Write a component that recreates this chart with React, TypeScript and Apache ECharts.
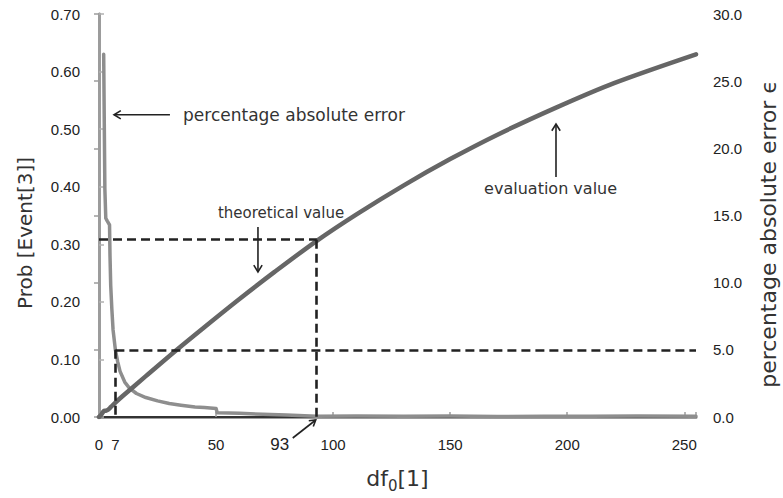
import React, { useEffect, useRef } from 'react';
import * as echarts from 'echarts';

// evaluation value (left axis, Prob[Event[3]])
const evalDf = [0, 1, 2, 3, 4, 5, 7, 10, 20, 33, 45, 60, 75, 93, 110, 130, 150, 170, 195, 220, 255];
const evalProb = [0, 0.004, 0.01, 0.011, 0.013, 0.017, 0.025, 0.036, 0.071, 0.116, 0.156, 0.205, 0.252, 0.306, 0.352, 0.402, 0.448, 0.49, 0.537, 0.58, 0.63];

// percentage absolute error (right axis)
const errDf = [2, 2.1, 2.5, 2.9, 3.5, 4.5, 4.7, 5, 5.5, 6, 7, 8, 9, 11, 13, 16, 20, 25, 30, 35, 41, 45, 50, 50.5, 60, 70, 80, 93, 110, 130, 150, 170, 190, 210, 230, 255];
const errPct = [27, 25, 17, 14.8, 14.6, 14.3, 12, 9.8, 8, 6.5, 5, 4.1, 3.4, 2.6, 2.15, 1.75, 1.45, 1.2, 1.0, 0.88, 0.75, 0.7, 0.64, 0.32, 0.28, 0.2, 0.14, 0.05, 0.08, 0.05, 0.07, 0.04, 0.06, 0.05, 0.07, 0.05];

// reference thresholds
const theoDf = 93;
const theoProb = 0.308;
const errDfAt5 = 7;
const errLevel = 5;

const xMax = 255;
const leftMax = 0.7;
const rightMax = 30;

const TICK_FONT = 'Liberation Sans';
const TEXT_FONT = 'DejaVu Sans';

function arrow(x1: number, y1: number, x2: number, y2: number, head = 8) {
  const ang = Math.atan2(y2 - y1, x2 - x1);
  const a1 = ang + Math.PI - 0.55;
  const a2 = ang + Math.PI + 0.55;
  return [
    { type: 'line', shape: { x1, y1, x2, y2 }, style: { stroke: '#222', lineWidth: 1.6 }, z: 10 },
    {
      type: 'polyline',
      shape: {
        points: [
          [x2 + head * Math.cos(a1), y2 + head * Math.sin(a1)],
          [x2, y2],
          [x2 + head * Math.cos(a2), y2 + head * Math.sin(a2)],
        ],
      },
      style: { stroke: '#222', lineWidth: 1.6, fill: null },
      z: 10,
    },
  ];
}

export default function App() {
  const ref = useRef<HTMLDivElement>(null);
  useEffect(() => {
    document.body.style.margin = '0';
    const chart = echarts.init(ref.current!, null, { renderer: 'svg' });
    const dash = { type: [9, 5], color: '#222', width: 2.6 };
    const option: any = {
      animation: false,
      grid: { left: 99, width: 597, top: 14, height: 411 },
      xAxis: [
        {
          type: 'value', min: 0, max: xMax, interval: 50,
          axisLine: { lineStyle: { color: '#9c9c9c', width: 3 } },
          axisTick: { show: true, inside: true, length: 5, lineStyle: { color: '#9c9c9c', width: 1.5 } },
          axisLabel: {
            margin: 20, fontSize: 15, fontFamily: TICK_FONT, color: '#222',
            formatter: (v: number) => (v % 50 === 0 ? String(v) : ''),
          },
          splitLine: { show: false },
          name: '{a|df}{b|0}{a|[1]}',
          nameLocation: 'middle',
          nameGap: 46,
          nameTextStyle: {
            rich: {
              a: { fontSize: 22, fontFamily: TEXT_FONT, color: '#333', lineHeight: 30, verticalAlign: 'middle' },
              b: { fontSize: 15, fontFamily: TEXT_FONT, color: '#333', lineHeight: 14, verticalAlign: 'bottom' },
            },
          },
        },
        {
          type: 'value', position: 'top', min: 0, max: xMax,
          axisLine: { show: true, lineStyle: { color: '#333', width: 2 } },
          axisTick: { show: false }, axisLabel: { show: false }, splitLine: { show: false },
        },
      ],
      yAxis: [
        {
          type: 'value', min: 0, max: leftMax, interval: 0.1,
          axisLine: { show: true, lineStyle: { color: '#b0b0b0', width: 3 } },
          axisTick: { show: true, inside: true, length: 5, lineStyle: { color: '#b0b0b0', width: 1.5 } },
          axisLabel: { margin: 19, fontSize: 15, fontFamily: TICK_FONT, color: '#222', formatter: (v: number) => v.toFixed(2) },
          splitLine: { show: false },
        },
        {
          type: 'value', min: 0, max: rightMax, interval: 5, position: 'right',
          axisLine: { show: true, lineStyle: { color: '#9c9c9c', width: 3 } },
          axisTick: { show: true, inside: true, length: 5, lineStyle: { color: '#9c9c9c', width: 1.5 } },
          axisLabel: { margin: 17, fontSize: 15, fontFamily: TICK_FONT, color: '#222', formatter: (v: number) => v.toFixed(1) },
          splitLine: { show: false },
        },
      ],
      series: [
        {
          name: 'percentage absolute error', type: 'line', yAxisIndex: 1, showSymbol: false, symbol: 'none',
          data: errDf.map((d, i) => [d, errPct[i]]),
          lineStyle: { color: '#8e8e8e', width: 3.5, cap: 'round', join: 'round' },
          z: 2,
        },
        {
          name: 'evaluation value', type: 'line', yAxisIndex: 0, showSymbol: false, symbol: 'none', smooth: 0.3,
          data: evalDf.map((d, i) => [d, evalProb[i]]),
          lineStyle: { color: '#666', width: 4.5, cap: 'round' },
          z: 3,
        },
        {
          type: 'line', yAxisIndex: 0, data: [], z: 5,
          markLine: {
            silent: true, symbol: 'none', label: { show: false }, lineStyle: dash, animation: false,
            data: [
              [{ coord: [0, theoProb] }, { coord: [theoDf, theoProb] }],
              [{ coord: [theoDf, theoProb] }, { coord: [theoDf, 0] }],
            ],
          },
        },
        {
          type: 'line', yAxisIndex: 1, data: [], z: 5,
          markLine: {
            silent: true, symbol: 'none', label: { show: false }, lineStyle: dash, animation: false,
            data: [
              [{ coord: [errDfAt5, errLevel] }, { coord: [xMax, errLevel] }],
              [{ coord: [errDfAt5, errLevel] }, { coord: [errDfAt5, 0] }],
            ],
          },
        },
      ],
    };
    chart.setOption(option);

    const P = (x: number, y: number) => chart.convertToPixel({ xAxisIndex: 0, yAxisIndex: 0 }, [x, y]) as number[];
    const txt = (x: number, y: number, text: string, size = 15, align = 'left') => ({
      type: 'text', x, y, z: 10,
      style: { text, fontSize: size, fontFamily: TEXT_FONT, fill: '#333', align, verticalAlign: 'middle' },
    });

    const pe = P(6.4, 0.525);
    const pe2 = P(30.3, 0.525);
    const peT = P(35.9, 0.525);
    const th = P(50.8, 0.354);
    const thA1 = P(67.9, 0.330);
    const thA2 = P(67.9, 0.252);
    const ev = P(164.5, 0.397);
    const evA1 = P(195.2, 0.417);
    const evA2 = P(195.2, 0.509);
    const x7 = P(errDfAt5, 0);
    const x93 = P(theoDf, 0);

    const graphic: any[] = [
      txt(peT[0], peT[1], 'percentage absolute error', 17),
      ...arrow(pe2[0], pe2[1], pe[0], pe[1]),
      txt(th[0], th[1], 'theoretical value', 15),
      ...arrow(thA1[0], thA1[1], thA2[0], thA2[1]),
      txt(ev[0], ev[1], 'evaluation value', 16),
      ...arrow(evA1[0], evA1[1], evA2[0], evA2[1]),
      {
        type: 'text', x: x7[0], y: x7[1] + 27, z: 10,
        style: { text: String(errDfAt5), fontSize: 15, fontFamily: TICK_FONT, fill: '#222', align: 'center', verticalAlign: 'middle' },
      },
      {
        type: 'text', x: x93[0] - 37, y: x93[1] + 27, z: 10,
        style: { text: String(theoDf), fontSize: 17, fontFamily: TICK_FONT, fill: '#222', align: 'center', verticalAlign: 'middle' },
      },
      ...arrow(x93[0] - 24, x93[1] + 21, x93[0] - 1, x93[1] + 3, 7),
      {
        type: 'text', x: 25, y: 233, rotation: Math.PI / 2, z: 10,
        style: { text: 'Prob [Event[3]]', fontSize: 20, fontFamily: TEXT_FONT, fill: '#333', align: 'center', verticalAlign: 'middle' },
      },
      {
        type: 'text', x: 768, y: 234, rotation: Math.PI / 2, z: 10,
        style: { text: 'percentage absolute error ϵ', fontSize: 22, fontFamily: TEXT_FONT, fill: '#333', align: 'center', verticalAlign: 'middle' },
      },
    ];
    chart.setOption({ graphic });
    return () => chart.dispose();
  }, []);
  return <div ref={ref} style={{ width: 783, height: 498 }} />;
}
